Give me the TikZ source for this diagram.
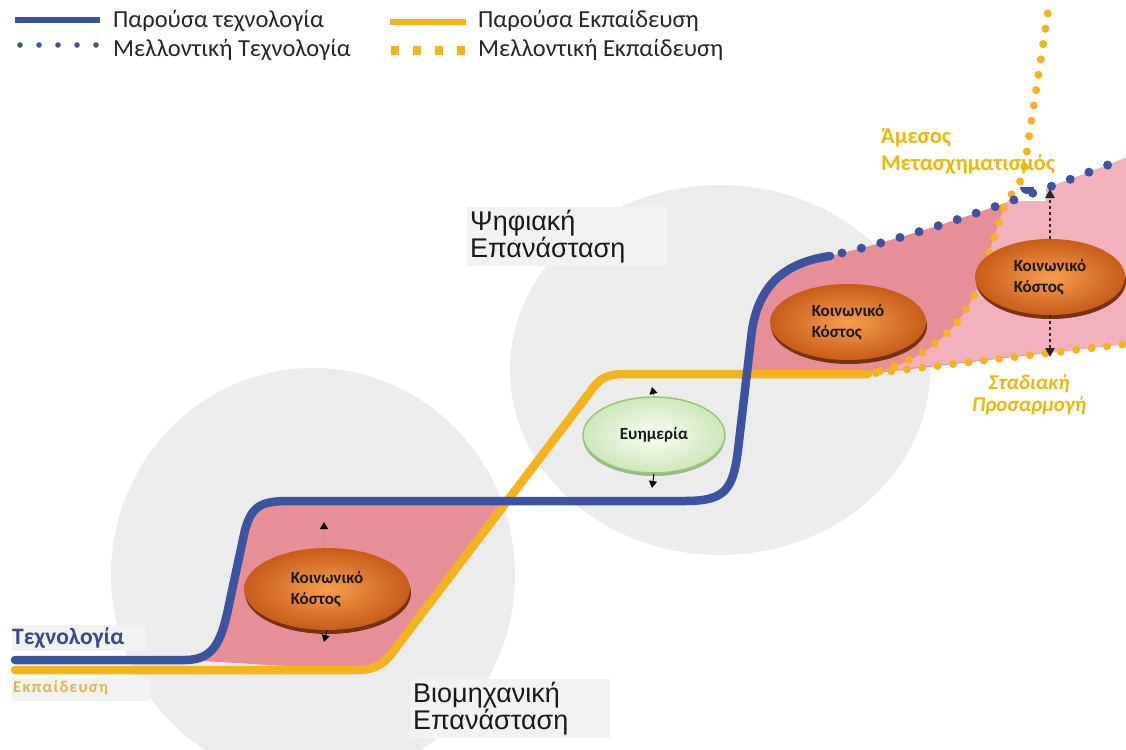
\documentclass[tikz,border=0pt]{standalone}
\usepackage{fontspec}
\setmainfont{Carlito}
\newfontfamily\arialf{Liberation Sans}
\usetikzlibrary{shapes.geometric,arrows.meta,shadows}
\definecolor{techblue}{RGB}{61,83,160}
\definecolor{eduyellow}{RGB}{245,180,30}
\definecolor{circgray}{RGB}{236,236,236}
\definecolor{boxgray}{RGB}{242,242,242}
\definecolor{pinkdark}{RGB}{230,143,153}
\definecolor{pinklight}{RGB}{241,178,190}
\definecolor{labyellow}{RGB}{242,183,5}
\definecolor{edulab}{RGB}{228,180,80}
\definecolor{techlab}{RGB}{58,73,140}
\definecolor{orin}{RGB}{247,158,78}
\definecolor{orout}{RGB}{200,92,24}
\definecolor{orrim}{RGB}{120,50,15}
\definecolor{grin}{RGB}{250,253,246}
\definecolor{grout}{RGB}{205,232,185}
\definecolor{grline}{RGB}{150,200,120}
\definecolor{grrim}{RGB}{160,180,140}
\tikzset{
  techline/.style={techblue, line width=8.5pt, line cap=round, line join=round},
  eduline/.style={eduyellow, line width=8.5pt, line cap=round, line join=round},
  techdots/.style={techblue, line width=9pt, line cap=round, dash pattern=on 0pt off 20pt},
  edudots/.style={eduyellow, line width=8pt, line cap=round, dash pattern=on 0pt off 15.5pt},
  costell/.style={ellipse, inner sep=0pt, shading=radial, inner color=orin, outer color=orout,
    general shadow={fill=orrim, shadow yshift=-4pt, shadow xshift=1pt},
    font=\fontsize{17}{21}\selectfont\bfseries, text=black!90, align=left},
  goodell/.style={ellipse, inner sep=0pt, shading=radial, inner color=grin, outer color=grout,
    draw=grline, line width=1.5pt,
    general shadow={fill=grrim, shadow yshift=-3pt},
    font=\fontsize{17}{21}\selectfont\bfseries, text=black!90},
  smallarrow/.style={-{Triangle[width=8pt,length=7pt,color=black]}, line width=1pt},
  dotarrow/.style={-{Triangle[width=9pt,length=9pt]}, line width=2.5pt, dash pattern=on 3pt off 3pt, black!85},
  legtext/.style={anchor=west, inner sep=0pt, font=\fontsize{24.5}{28}\selectfont, text=black!85},
  revtext/.style={anchor=north west, align=left, inner sep=3pt, fill=boxgray, text width=194pt,
    font=\arialf\fontsize{27}{27}\selectfont, text=black!90}
}
\begin{document}
\begin{tikzpicture}[x=1pt,y=-1pt]
\useasboundingbox (0,0) rectangle (1126,749);
\fill[white] (0,0) rectangle (1126,749);

% background circles
\fill[circgray] (313,575) ellipse [x radius=202, y radius=207];
\fill[circgray] (720,370) ellipse [x radius=210, y radius=185];

% label boxes
\fill[boxgray] (12,625) rectangle (145,651);
\fill[boxgray] (12,677) rectangle (150,701);

% pink areas
\fill[pinkdark] (185,660) .. controls (215,660) and (222,640) .. (230,600) -- (245,530)
  .. controls (252,505) and (262,501) .. (290,501) -- (507,501) -- (398,645)
  .. controls (385,665) and (375,670) .. (355,670) -- cycle;
\fill[pinkdark] (747,374) -- (752,330) .. controls (760,280) and (790,262) .. (830,256)
  .. controls (930,232) and (1030,195) .. (1126,158) -- (1126,344) -- (868,374) -- cycle;
\fill[pinklight] (882,371) .. controls (935,355) and (968,320) .. (982,275) -- (1003,210)
  -- (1008,200) .. controls (1050,188) and (1090,172) .. (1126,158) -- (1126,344) -- cycle;
\fill[white] (1014,186) rectangle (1046,201);
\fill[techblue] (1020,187) arc[start angle=180, end angle=0, radius=7] -- cycle;

% current lines
\draw[eduline] (15,670) -- (355,670) .. controls (375,670) and (385,665) .. (398,645)
  -- (590,392) .. controls (598,380) and (605,374) .. (625,374) -- (868,374);
\draw[techline] (15,660) -- (185,660) .. controls (215,660) and (222,640) .. (230,600)
  -- (245,530) .. controls (252,505) and (262,501) .. (290,501) -- (685,501)
  .. controls (725,501) and (733,490) .. (738,450) -- (752,330)
  .. controls (760,280) and (790,262) .. (830,256);

% future lines
\draw[edudots] (876,373) -- (1126,344);
\draw[edudots] (880,371) .. controls (935,355) and (968,320) .. (982,275) -- (1003,210)
  .. controls (1010,192) and (1022,185) .. (1024,170) -- (1048,12);
\draw[techdots] (842,253) .. controls (930,232) and (1030,195) .. (1126,158);

% ellipses
\node[costell, minimum width=166pt, minimum height=82pt] (c1) at (327,589) {Κοινωνικό\\Κόστος};
\node[goodell, minimum width=142pt, minimum height=76pt] (w1) at (654,435) {Ευημερία};
\node[costell, minimum width=156pt, minimum height=76pt] (c2) at (848,322) {Κοινωνικό\\Κόστος};
\node[costell, minimum width=150pt, minimum height=76pt] (c3) at (1050,277) {Κοινωνικό\\Κόστος};

% arrows
\coordinate (c1u) at (324,522);
\coordinate (c1d) at (324,642);
\draw[smallarrow, draw=pinkdark!70!gray] (324,548) -- (c1u);
\draw[smallarrow] (c1.south) -- (c1d);
\coordinate (w1u) at (652,387);
\coordinate (w1d) at (652,488);
\draw[smallarrow, draw=grline] (w1.north) -- (w1u);
\draw[smallarrow] (w1.south) -- (w1d);
\coordinate (c3u) at (1050,189);
\coordinate (c3d) at (1050,357);
\draw[dotarrow] (c3.north) -- (c3u);
\draw[dotarrow] (c3.south) -- (c3d);

% side labels
\node[anchor=west, inner sep=0pt, font=\fontsize{23.5}{26}\selectfont\bfseries, text=techlab] (tl) at (12,638) {Τεχνολογία};
\node[anchor=west, inner sep=0pt, font=\fontsize{16.5}{18}\selectfont\bfseries\addfontfeatures{LetterSpace=8}, text=edulab] (el) at (13,688) {Εκπαίδευση};

\node[revtext] (br) at (410,679) {Βιομηχανική\\Επανάσταση};
\node[revtext] (dr) at (467,207) {Ψηφιακή\\Επανάσταση};

\node[anchor=north west, inner sep=0pt, align=left, font=\fontsize{22.5}{27}\selectfont\bfseries, text=labyellow] (am) at (881,128) {Άμεσος\\Μετασχηματισμός};
\node[anchor=north, inner sep=0pt, align=center, font=\fontsize{21}{22}\selectfont\bfseries\itshape, text=labyellow] (sp) at (1029,374) {Σταδιακή\\Προσαρμογή};

% legend
\draw[techblue, line width=6pt] (15,20) -- (100,20);
\foreach \xx in {20,39,58,77,96} \fill[techblue] (\xx,45) circle (2.8);
\draw[eduyellow, line width=6pt] (390,22) -- (466,22);
\foreach \xx in {395,417,439,461} \fill[eduyellow] (\xx-4,46) rectangle (\xx+4,55);
\node[legtext] (l1) at (113,21) {Παρούσα τεχνολογία};
\node[legtext] (l2) at (113,50) {Μελλοντική Τεχνολογία};
\node[legtext] (l3) at (478,21) {Παρούσα Εκπαίδευση};
\node[legtext] (l4) at (478,50) {Μελλοντική Εκπαίδευση};
\end{tikzpicture}
\end{document}
